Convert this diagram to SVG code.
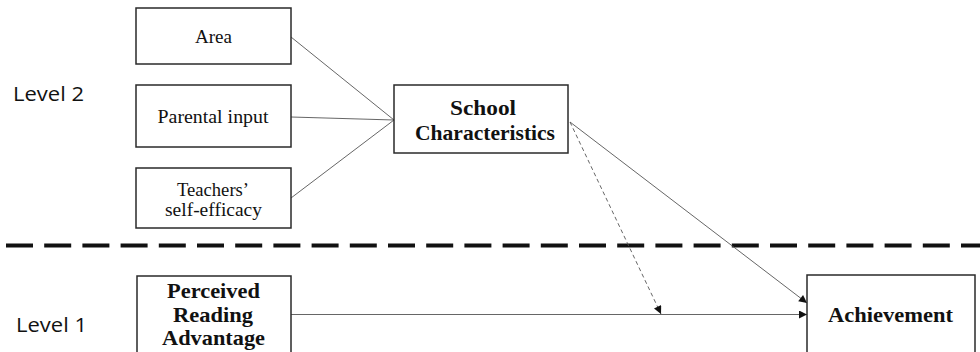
<svg xmlns="http://www.w3.org/2000/svg" width="980" height="352" viewBox="0 0 980 352">
<defs>
<style>
.box{fill:#fff;stroke:#2a2a2a;stroke-width:1.5}
.t{font-family:"Liberation Serif","Times New Roman",serif;font-size:19px;fill:#111;text-anchor:middle}
.b{font-family:"Liberation Serif","Times New Roman",serif;font-size:21px;font-weight:bold;fill:#111;text-anchor:middle}
.lvl{font-family:"Open Sans","Noto Sans",sans-serif;font-size:20px;fill:#111}
.c{fill:none;stroke:#555;stroke-width:0.9}
</style>
<marker id="ah" viewBox="0 0 10 10" refX="10" refY="5" markerWidth="9" markerHeight="8" markerUnits="userSpaceOnUse" orient="auto">
<path d="M0,0 L10,5 L0,10 Z" fill="#111"/>
</marker>
</defs>
<rect width="980" height="352" fill="#fff"/>
<text class="lvl" x="13" y="101" textLength="71" lengthAdjust="spacingAndGlyphs">Level 2</text>
<text class="lvl" x="16" y="332" textLength="71" lengthAdjust="spacingAndGlyphs">Level 1</text>
<line x1="6" y1="245.5" x2="980" y2="245.5" stroke="#111" stroke-width="4" stroke-dasharray="27 11.2"/>
<g id="connectors">
<line class="c" x1="291" y1="37" x2="394" y2="120"/>
<line class="c" x1="291" y1="117" x2="394" y2="120"/>
<line class="c" x1="291" y1="198" x2="394" y2="120"/>
<line class="c" x1="570" y1="122" x2="807" y2="303" stroke="#444" marker-end="url(#ah)"/>
<line class="c" x1="570" y1="122" x2="661" y2="314" stroke="#555" stroke-dasharray="4 3" marker-end="url(#ah)"/>
<line class="c" x1="291" y1="314.5" x2="807" y2="314.5" stroke="#aaa" stroke-width="1.2" marker-end="url(#ah)"/>
</g>
<g id="area">
<rect class="box" x="136" y="8" width="155" height="56"/>
<text class="t" x="213.5" y="43" textLength="37" lengthAdjust="spacingAndGlyphs">Area</text>
</g>
<g id="parental">
<rect class="box" x="136" y="85" width="155" height="62"/>
<text class="t" x="213" y="123" textLength="111" lengthAdjust="spacingAndGlyphs">Parental input</text>
</g>
<g id="teachers">
<rect class="box" x="136" y="168" width="155" height="60"/>
<text class="t" x="213" y="196" textLength="72" lengthAdjust="spacingAndGlyphs">Teachers’</text>
<text class="t" x="213.5" y="216" textLength="97" lengthAdjust="spacingAndGlyphs">self-efficacy</text>
</g>
<g id="school">
<rect class="box" x="394" y="85" width="174" height="68"/>
<text class="b" x="483" y="115" textLength="66" lengthAdjust="spacingAndGlyphs">School</text>
<text class="b" x="485" y="140" textLength="140" lengthAdjust="spacingAndGlyphs">Characteristics</text>
</g>
<g id="perceived">
<rect class="box" x="137" y="276" width="154" height="90"/>
<text class="b" x="213.5" y="298" textLength="93" lengthAdjust="spacingAndGlyphs" font-size="22">Perceived</text>
<text class="b" x="213" y="322" textLength="80" lengthAdjust="spacingAndGlyphs" font-size="22">Reading</text>
<text class="b" x="213.5" y="345" textLength="103" lengthAdjust="spacingAndGlyphs" font-size="22">Advantage</text>
</g>
<g id="achievement">
<rect class="box" x="807" y="275" width="168" height="90"/>
<text class="b" x="890.5" y="322" textLength="125" lengthAdjust="spacingAndGlyphs">Achievement</text>
</g>
</svg>
